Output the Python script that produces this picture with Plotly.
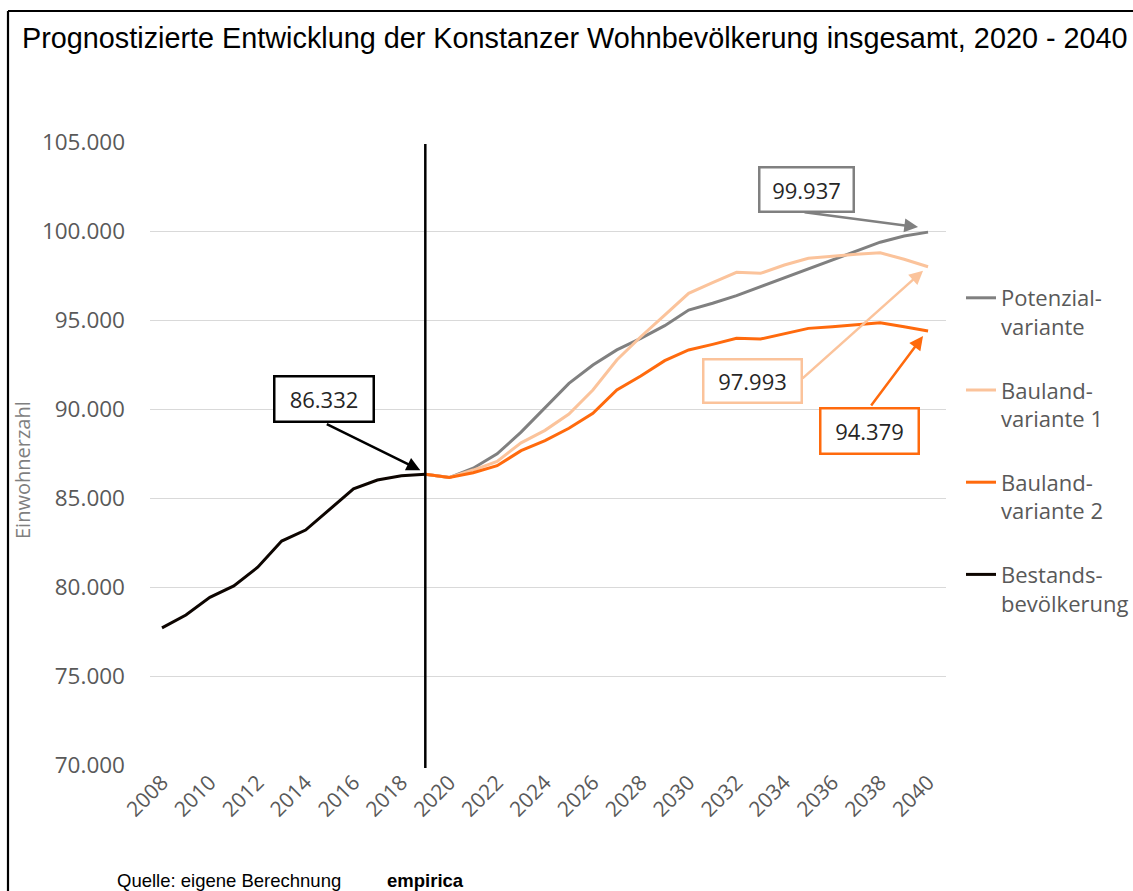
import plotly.graph_objects as go

# ---------------- data ----------------
hist_years = list(range(2008, 2020))
bestand = [77700, 78430, 79420, 80060, 81110, 82580, 83200, 84330, 85510, 86010, 86250, 86332]

proj_years = list(range(2019, 2041))
potenzial = [86332, 86150, 86670, 87480, 88700, 90100, 91440, 92470, 93320, 93970, 94680,
             95560, 95940, 96370, 96870, 97380, 97900, 98410, 98890, 99370, 99720, 99937]
bauland1 = [86332, 86150, 86570, 87060, 88100, 88800, 89720, 91070, 92750, 94060, 95280,
            96500, 97100, 97680, 97620, 98090, 98470, 98590, 98690, 98780, 98410, 97993]
bauland2 = [86332, 86150, 86420, 86815, 87660, 88220, 88915, 89760, 91070, 91850, 92715,
            93315, 93630, 93970, 93930, 94250, 94530, 94620, 94720, 94850, 94620, 94379]

series_names = ["Potenzial-<br>variante", "Bauland-<br>variante 1", "Bauland-<br>variante 2",
                "Bestands-<br>bevölkerung"]
label_texts = ["86.332", "99.937", "97.993", "94.379"]
tick_years = list(range(2008, 2041, 2))
tick_labels = [str(y) for y in tick_years]
y_ticks = list(range(70000, 105001, 5000))
split_year = 2019

title_text = "Prognostizierte Entwicklung der Konstanzer Wohnbevölkerung insgesamt, 2020 - 2040"
y_title = "Einwohnerzahl"
source_text = "Quelle: eigene Berechnung"
brand_text = "empirica"

# ---------------- style ----------------
W, H = 1133, 891
ML, MT = 150, 142
PW, PH = 796, 623
MR, MB = W - ML - PW, H - MT - PH
C_GRAY, C_LIGHT, C_ORANGE, C_BLACK = "#808080", "#fbc39b", "#ff6a0d", "#0d0500"
TXT = "#595959"
FONT = "Open Sans"
NARROW = "Liberation Sans Narrow, Arial Narrow, Liberation Sans"


def px(xp):
    return (xp - ML) / PW


def py(yp):
    return (MT + PH - yp) / PH


fig = go.Figure()
fig.add_trace(go.Scatter(x=proj_years, y=potenzial, mode="lines", name=series_names[0],
                         line=dict(color=C_GRAY, width=3), legendgroup="a"))
fig.add_trace(go.Scatter(x=proj_years, y=bauland1, mode="lines", name=series_names[1],
                         line=dict(color=C_LIGHT, width=3), legendgroup="b"))
fig.add_trace(go.Scatter(x=proj_years, y=bauland2, mode="lines", name=series_names[2],
                         line=dict(color=C_ORANGE, width=3), legendgroup="c"))
fig.add_trace(go.Scatter(x=hist_years, y=bestand, mode="lines", name=series_names[3],
                         line=dict(color=C_BLACK, width=3), legendgroup="d"))

shapes = [
    dict(type="line", xref="x", yref="paper", x0=split_year, x1=split_year,
         y0=py(768), y1=py(144), line=dict(color="black", width=2.5), layer="above"),
    dict(type="line", xref="paper", yref="paper", x0=px(8), x1=px(1140), y0=py(11), y1=py(11),
         line=dict(color="black", width=2)),
    dict(type="line", xref="paper", yref="paper", x0=px(8), x1=px(8), y0=py(11), y1=py(900),
         line=dict(color="black", width=2.2)),
]

annotations = []
callouts = [
    (split_year, bestand[-1], (-5, 4), (-95, -47), (-101, 75), (102, 48), "#000000"),
    (proj_years[-1], potenzial[-1], (-10, 5), (-115, -15), (-122, 43), (97, 47), C_GRAY),
    (proj_years[-1], bauland1[-1], (-5, -4), (-122, 109), (-176, -114), (101, 46), C_LIGHT),
    (proj_years[-1], bauland2[-1], (-5, -5), (-53, 71), (-59, -100), (101, 48), C_ORANGE),
]
for (xv, yv, hs, tail, bs, size, col), txt in zip(callouts, label_texts):
    annotations.append(dict(x=xv, y=yv, xref="x", yref="y", text="", showarrow=True,
                            xshift=hs[0], yshift=hs[1], ax=tail[0], ay=tail[1],
                            arrowhead=2, arrowsize=1.1, arrowwidth=2.5, arrowcolor=col))
    annotations.append(dict(x=xv, y=yv, xref="x", yref="y", text=txt, showarrow=False,
                            xshift=bs[0], yshift=bs[1], xanchor="center", yanchor="middle",
                            width=size[0] - 5, height=size[1] - 5, borderpad=0,
                            bordercolor=col, borderwidth=2.5, bgcolor="white",
                            font=dict(family=FONT, size=22, color="#262626")))

annotations.append(dict(x=px(22), y=py(470), xref="paper", yref="paper", text=y_title,
                        textangle=-90, showarrow=False, xanchor="center", yanchor="middle",
                        font=dict(family=FONT, size=20, color="#7f7f7f")))
annotations.append(dict(x=px(115), y=py(880), xref="paper", yref="paper", text=source_text,
                        showarrow=False, xanchor="left", yanchor="middle",
                        font=dict(family=NARROW, size=18.5, color="black")))
annotations.append(dict(x=px(385), y=py(880), xref="paper", yref="paper",
                        text="<b>" + brand_text + "</b>",
                        showarrow=False, xanchor="left", yanchor="middle",
                        font=dict(family=NARROW, size=18.5, color="black")))

fig.update_layout(
    width=W, height=H,
    margin=dict(l=ML, r=MR, t=MT, b=MB, autoexpand=False),
    paper_bgcolor="white", plot_bgcolor="white",
    separators=",.",
    title=dict(text=title_text, x=22 / W, xanchor="left", y=1 - 38 / H,
               yanchor="middle", font=dict(family=NARROW, size=28.8, color="black")),
    xaxis=dict(range=[2007.5, 2040.75], tickvals=tick_years, ticktext=tick_labels,
               tickangle=-45, showgrid=False, zeroline=False, showline=False, ticks="",
               tickfont=dict(family=FONT, size=21, color=TXT)),
    yaxis=dict(range=[70000, 105000], tickvals=y_ticks, tickformat=",d",
               showgrid=True, gridcolor="#d9d9d9", gridwidth=1.2, zeroline=False,
               showline=False, ticks="", ticklabelstandoff=24,
               tickfont=dict(family=FONT, size=22.5, color=TXT)),
    legend=dict(xref="container", yref="container",
                x=961 / W, y=1 - 277 / H, xanchor="left", yanchor="top",
                traceorder="grouped", tracegroupgap=32, valign="top",
                font=dict(family=FONT, size=22, color=TXT), bgcolor="rgba(0,0,0,0)"),
    shapes=shapes,
    annotations=annotations,
)

fig.write_html("out.html",
               config={"displayModeBar": False},
               post_script="document.body.style.margin='0px';"
                           "document.body.style.overflow='hidden';")
